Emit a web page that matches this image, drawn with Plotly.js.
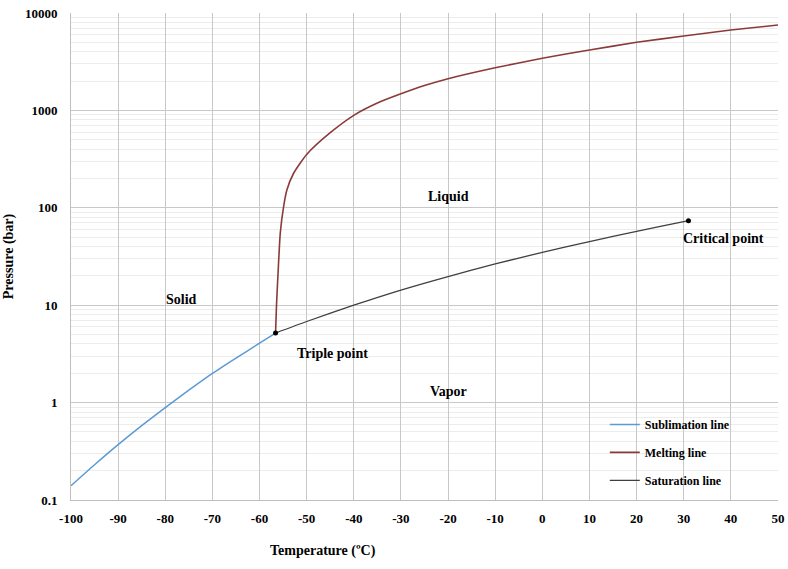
<!DOCTYPE html>
<html>
<head>
<meta charset="utf-8">
<script src="https://cdn.plot.ly/plotly-3.0.1.min.js"></script>
<style>html,body{margin:0;padding:0;background:#fff;}#chart{width:788px;height:569px;}</style>
</head>
<body>
<div id="chart"></div>
<script>
// Sublimation line (solid-vapor)
const subT = [-100, -95, -90, -85, -80, -75, -70, -65, -60, -56.6];
const subP = [0.14, 0.23, 0.37, 0.58, 0.89, 1.34, 1.99, 2.86, 4.07, 5.18];
// Melting line (solid-liquid)
const meltT = [-56.6, -56.4, -56.0, -55.6, -54.9, -54.2, -52.8, -50, -45, -40, -35, -30, -25, -20, -10, 0, 10, 20, 30, 40, 50];
const meltP = [5.18, 10, 25, 55, 102, 152, 225, 353, 590, 890, 1190, 1480, 1800, 2115, 2740, 3430, 4170, 5000, 5800, 6690, 7530];
// Saturation line (liquid-vapor)
const satT = [-56.6, -50, -40, -30, -20, -10, 0, 10, 20, 30, 31];
const satP = [5.18, 6.8, 10.0, 14.3, 19.7, 26.5, 34.9, 45.0, 57.3, 72.1, 73.8];
// Special points (triple point, critical point)
const pointT = [-56.6, 31];
const pointP = [5.18, 73.8];
// Tick labels
const xTicks = [-100, -90, -80, -70, -60, -50, -40, -30, -20, -10, 0, 10, 20, 30, 40, 50];
const xTickText = ['-100', '-90', '-80', '-70', '-60', '-50', '-40', '-30', '-20', '-10', '0', '10', '20', '30', '40', '50'];
const yTicks = [0.1, 1, 10, 100, 1000, 10000];
const yTickText = ['0.1', '1', '10', '100', '1000', '10000'];
const seriesNames = ['Sublimation line', 'Melting line', 'Saturation line'];

const serif = 'Liberation Serif, Times New Roman, serif';
const minorVals = [];
for (let d = -1; d < 4; d++) for (let m = 2; m <= 9; m++) minorVals.push(m * Math.pow(10, d));

const traces = [
  {x: subT, y: subP, mode: 'lines', name: seriesNames[0], legendgroup: 'a', line: {color: '#5b9bd5', width: 1.5, shape: 'spline', smoothing: 0.6}},
  {x: meltT, y: meltP, mode: 'lines', name: seriesNames[1], legendgroup: 'b', line: {color: '#8b3a3a', width: 1.6, shape: 'spline', smoothing: 0.6}},
  {x: satT, y: satP, mode: 'lines', name: seriesNames[2], legendgroup: 'c', line: {color: '#404040', width: 1.3, shape: 'spline', smoothing: 0.6}},
  {x: pointT, y: pointP, mode: 'markers', showlegend: false, marker: {color: '#000', size: 5}}
];

const layout = {
  width: 788, height: 569,
  margin: {l: 71, r: 10, t: 13, b: 69},
  paper_bgcolor: '#fff', plot_bgcolor: '#fff',
  font: {family: serif, color: '#000', size: 13},
  showlegend: true,
  legend: {x: 0.755, y: 0.185, xanchor: 'left', yanchor: 'top', bgcolor: 'rgba(0,0,0,0)',
           font: {family: serif, size: 12, weight: 'bold', color: '#000'},
           traceorder: 'grouped', tracegroupgap: 9, itemwidth: 30},
  xaxis: {range: [-100, 50], tickvals: xTicks, ticktext: xTickText, ticks: '', showgrid: true, gridcolor: '#c8c8c8', gridwidth: 1,
          zeroline: false, showline: true, linecolor: '#bfbfbf', ticklabelstandoff: 6,
          tickfont: {family: serif, size: 13, weight: 'bold', color: '#000'}},
  yaxis: {type: 'log', range: [-1, 4], tickvals: yTicks, ticktext: yTickText, ticks: '', showgrid: true,
          gridcolor: '#c8c8c8', gridwidth: 1, zeroline: false, showline: true, linecolor: '#bfbfbf',
          ticklabelstandoff: 10,
          tickfont: {family: serif, size: 13, weight: 'bold', color: '#000'},
          minor: {tickvals: minorVals, showgrid: true, gridcolor: '#ececec', gridwidth: 1, ticks: ''},
          title: {text: 'Pressure (bar)', standoff: 8, font: {family: serif, size: 14, weight: 'bold'}}},
  annotations: [
    {xref: 'paper', yref: 'paper', x: 0.357, y: -0.085, yanchor: 'top', xanchor: 'center', showarrow: false,
     text: 'Temperature (ºC)', font: {family: serif, size: 14, weight: 'bold'}},
    {x: -20, y: Math.log10(130), text: 'Liquid', showarrow: false, font: {family: serif, size: 14, weight: 'bold'}},
    {x: -76.5, y: Math.log10(11.5), text: 'Solid', showarrow: false, font: {family: serif, size: 14, weight: 'bold'}},
    {x: -20, y: Math.log10(1.3), text: 'Vapor', showarrow: false, font: {family: serif, size: 14, weight: 'bold'}},
    {x: -44.5, y: Math.log10(3.2), text: 'Triple point', showarrow: false, font: {family: serif, size: 14, weight: 'bold'}},
    {x: 38.5, y: Math.log10(48), text: 'Critical point', showarrow: false, font: {family: serif, size: 14, weight: 'bold'}}
  ]
};

Plotly.newPlot('chart', traces, layout, {displayModeBar: false, staticPlot: true});
</script>
</body>
</html>
